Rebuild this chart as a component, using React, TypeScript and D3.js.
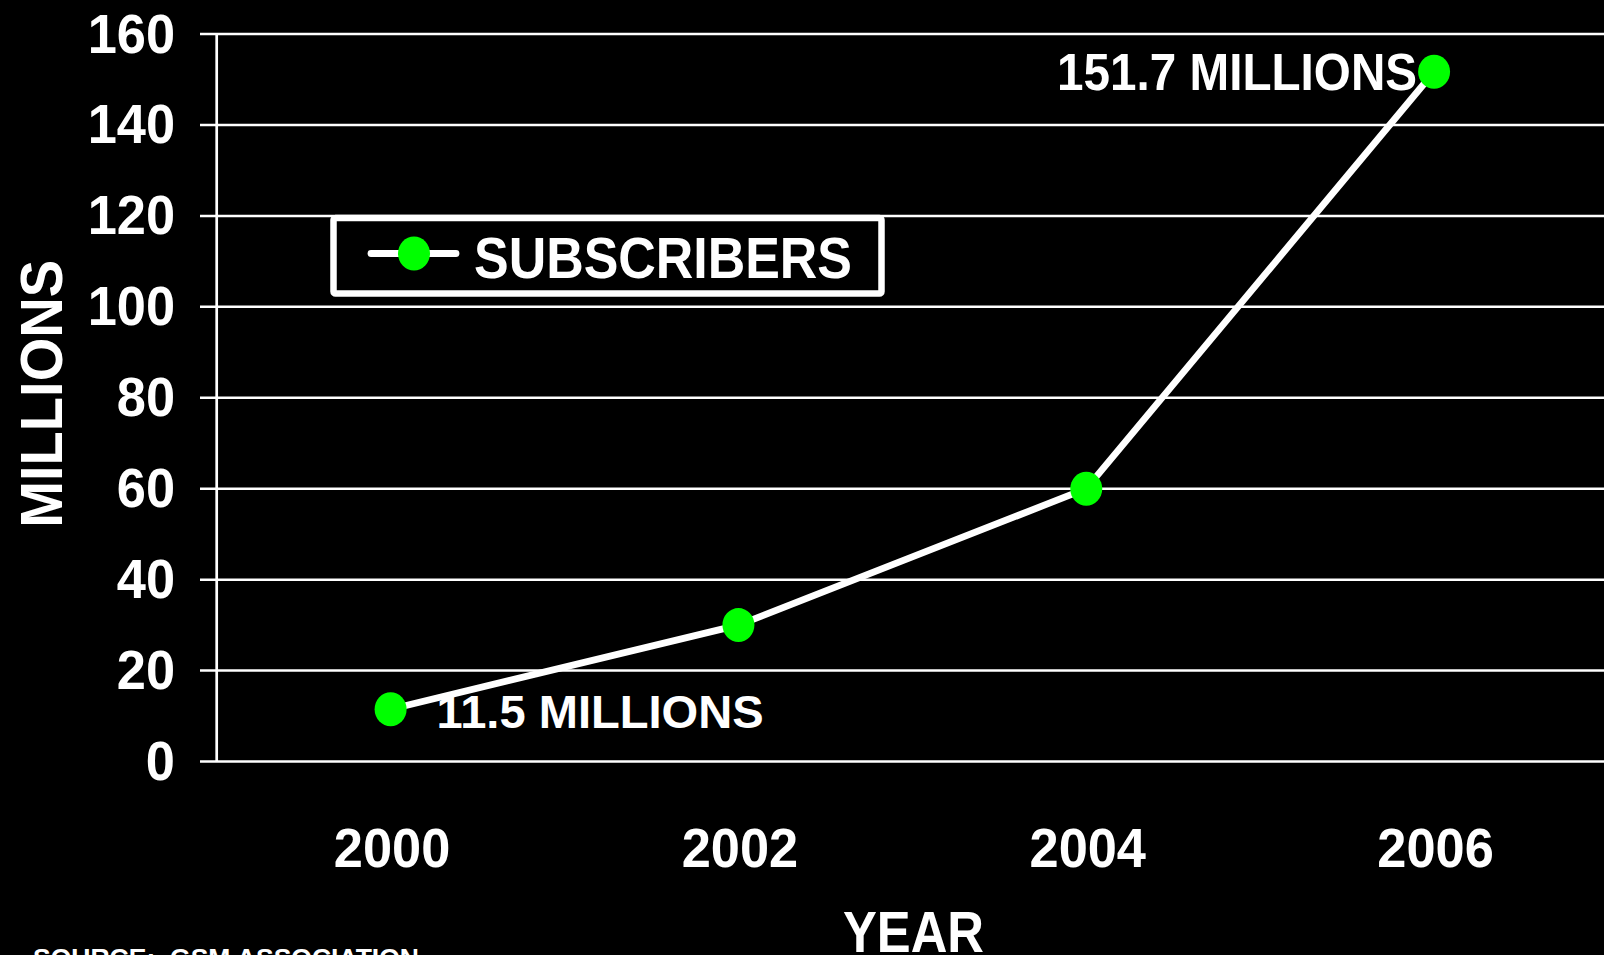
import React from "react";
import * as d3 from "d3";

const years = ["2000", "2002", "2004", "2006"];
const subscribers = [11.5, 30, 60, 151.7];
const yTicks = [0, 20, 40, 60, 80, 100, 120, 140, 160];
const seriesName = "SUBSCRIBERS";
const annotations = [
  { index: 0, text: "11.5 MILLIONS" },
  { index: 3, text: "151.7 MILLIONS" },
];
const xTitle = "YEAR";
const yTitle = "MILLIONS";
const sourceText = "SOURCE:  GSM ASSOCIATION";

const W = 1604;
const H = 955;
const FONT = "'Liberation Sans', Arial, sans-serif";

export default function App() {
  const plotLeft = 216.7;
  const plotRight = 1608;
  const plotTop = 34;
  const plotBottom = 761.5;

  const x = d3.scaleBand<string>().domain(years).range([plotLeft, plotRight]).padding(0);
  const cx = (yr: string) => (x(yr) as number) + x.bandwidth() / 2;
  const y = d3.scaleLinear().domain([0, 160]).range([plotBottom, plotTop]);

  const pts = years.map((yr, i) => [cx(yr), y(subscribers[i])] as [number, number]);
  const linePath = d3.line()(pts) || "";

  const white = "#ffffff";
  const green = "#00ff00";
  const cond = 0.935;

  return (
    <svg
      width={W}
      height={H}
      style={{ position: "absolute", left: 0, top: 0, background: "#000", display: "block" }}
      fontFamily={FONT}
      fontWeight="bold"
    >
      <rect x={0} y={0} width={W} height={H} fill="#000" />
      {/* gridlines + ticks */}
      {yTicks.map((t) => (
        <line key={"g" + t} x1={200} x2={plotRight} y1={y(t)} y2={y(t)} stroke={white} strokeWidth={2.5} />
      ))}
      {/* y axis line */}
      <line x1={plotLeft} x2={plotLeft} y1={plotTop} y2={plotBottom} stroke={white} strokeWidth={2.7} />
      {/* y tick labels */}
      {yTicks.map((t) => (
        <text
          key={"t" + t}
          transform={`translate(175, ${y(t) + 18.5}) scale(${cond}, 1)`}
          textAnchor="end"
          fill={white}
          fontSize={56}
        >
          {t}
        </text>
      ))}
      {/* x tick labels */}
      {years.map((yr) => (
        <text
          key={yr}
          transform={`translate(${cx(yr) + 1.5}, 866.5) scale(${cond}, 1)`}
          textAnchor="middle"
          fill={white}
          fontSize={56}
        >
          {yr}
        </text>
      ))}
      {/* axis titles */}
      <text x={913.5} y={952} textAnchor="middle" fill={white} fontSize={57} textLength={141} lengthAdjust="spacingAndGlyphs">
        {xTitle}
      </text>
      <text
        transform={`translate(62, ${(plotTop + plotBottom) / 2 - 4}) rotate(-90)`}
        textAnchor="middle"
        fill={white}
        fontSize={60}
        textLength={268}
        lengthAdjust="spacingAndGlyphs"
      >
        {yTitle}
      </text>
      {/* series line */}
      <path d={linePath} fill="none" stroke={white} strokeWidth={6.8} strokeLinejoin="round" />
      {pts.map((p, i) => (
        <ellipse key={"p" + i} cx={p[0]} cy={p[1]} rx={16} ry={17} fill={green} />
      ))}
      {/* annotations */}
      <text x={pts[annotations[0].index][0] + 46} y={728} fill={white} fontSize={47} textLength={327} lengthAdjust="spacingAndGlyphs">
        {annotations[0].text}
      </text>
      <text
        x={pts[annotations[1].index][0] - 17}
        y={90}
        textAnchor="end"
        fill={white}
        fontSize={51}
        textLength={360}
        lengthAdjust="spacingAndGlyphs"
      >
        {annotations[1].text}
      </text>
      {/* legend */}
      <rect x={333.5} y={218} width={548} height={75.5} rx={2} fill="#000" stroke={white} strokeWidth={6.5} />
      <line x1={371} x2={456} y1={253.5} y2={253.5} stroke={white} strokeWidth={6.8} strokeLinecap="round" />
      <ellipse cx={414} cy={253.5} rx={16} ry={17} fill={green} />
      <text x={474} y={278.3} fill={white} fontSize={57} textLength={378} lengthAdjust="spacingAndGlyphs">
        {seriesName}
      </text>
      {/* source */}
      <text
        x={33}
        y={967}
        fill={white}
        fontSize={26}
        textLength={386}
        lengthAdjust="spacingAndGlyphs"
        style={{ whiteSpace: "pre" }}
      >
        {sourceText}
      </text>
    </svg>
  );
}
